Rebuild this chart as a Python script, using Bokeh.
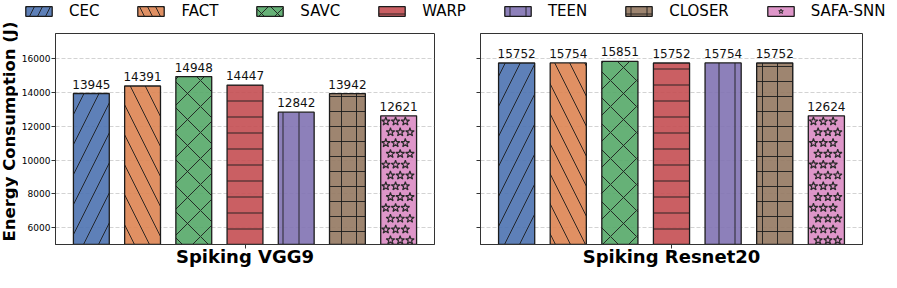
import numpy as np
from bokeh.plotting import figure
from bokeh.models import (Range1d, FixedTicker, Legend, LegendItem, ColumnDataSource, LabelSet)
from bokeh.layouts import column, row
from bokeh.embed import file_html
from bokeh.resources import INLINE
from bokeh.core.properties import value

# ---------------- data ----------------
methods = ["CEC", "FACT", "SAVC", "WARP", "TEEN", "CLOSER", "SAFA-SNN"]
vgg9 = [13945, 14391, 14948, 14447, 12842, 13942, 12621]
resnet20 = [15752, 15754, 15851, 15752, 15754, 15752, 12624]
panel_titles = ["Spiking VGG9", "Spiking Resnet20"]
y_ticks = [6000, 8000, 10000, 12000, 14000, 16000]
y_label = "Energy Consumption (J)"

# ---------------- styles ----------------
colors = ["#4C72B0", "#DD8452", "#55A868", "#C44E52", "#8172B3", "#937860", "#DA8BC3"]
hatches = ["right_diagonal_line", "left_diagonal_line", "diagonal_cross",
           "horizontal_line", "vertical_line", "cross", "blank"]
hatch_scales = [30, 30, 26, 16, 16, 15, 10]
star_bar = [False, False, False, False, False, False, True]
EDGE = "#1c1c1c"
FONT = "DejaVu Sans"
Y0, Y1 = 5000, 17500
BAR_W = 0.7


def make_panel(vals, title, first, width, bl, br):
    p = figure(width=width, height=260, x_range=Range1d(-0.7, len(methods) - 0.3),
               y_range=Range1d(Y0, Y1), output_backend="svg", toolbar_location=None,
               min_border_left=bl, min_border_right=br, min_border_top=5, min_border_bottom=44)
    p.background_fill_color = "white"
    p.border_fill_color = "white"
    p.outline_line_color = "#333333"
    p.outline_line_width = 1

    for i, (m, v) in enumerate(zip(methods, vals)):
        src = ColumnDataSource(dict(x=[i], top=[v]))
        p.vbar(x="x", top="top", bottom=0, width=BAR_W, source=src,
               fill_color=colors[i], fill_alpha=0.9, line_color=EDGE, line_width=1.3,
               hatch_pattern=hatches[i], hatch_color=EDGE, hatch_weight=1,
               hatch_scale=hatch_scales[i], hatch_alpha=0.9)
        if star_bar[i]:
            rows = np.arange(v - 330, Y0 - 400, -640)
            xs, ys = [], []
            for k, yy in enumerate(rows):
                offs = [-0.25, -0.06, 0.13] if k % 2 == 0 else [-0.16, 0.03, 0.22]
                for o in offs:
                    xs.append(i + o)
                    ys.append(yy)
            p.scatter(x=xs, y=ys, marker="star", size=9, fill_color=colors[i],
                      fill_alpha=0.0, line_color="#2a2a2a", line_width=1.2)

    lab_src = ColumnDataSource(dict(x=list(range(len(methods))), y=vals,
                                    t=[str(v) for v in vals]))
    p.add_layout(LabelSet(x="x", y="y", text="t", source=lab_src, y_offset=5,
                          text_align="center", text_baseline="alphabetic",
                          text_font_size="12px", text_font=value(FONT), text_color="#111111"))

    # x axis: single centered tick carrying the panel title
    mid = (len(methods) - 1) / 2
    p.xaxis.ticker = FixedTicker(ticks=[mid])
    p.xaxis.major_label_overrides = {mid: title}
    p.xaxis.major_label_text_font = FONT
    p.xaxis.major_label_text_font_style = "bold"
    p.xaxis.major_label_text_font_size = "18px"
    p.xaxis.major_label_text_color = "black"
    p.xaxis.major_label_standoff = -3
    p.xaxis.minor_tick_line_color = None
    p.xaxis.major_tick_out = 4
    p.xaxis.major_tick_in = 0
    p.xaxis.major_tick_line_color = "#333333"
    p.xaxis.axis_line_color = "#333333"

    p.yaxis.ticker = FixedTicker(ticks=y_ticks)
    p.yaxis.minor_tick_line_color = None
    p.yaxis.major_tick_out = 4
    p.yaxis.major_tick_in = 0
    p.yaxis.major_tick_line_color = "#333333"
    p.yaxis.axis_line_color = "#333333"
    p.yaxis.major_label_text_font = FONT
    p.yaxis.major_label_text_font_size = "9px"
    p.yaxis.major_label_text_color = "black"
    p.yaxis.major_label_standoff = 1
    if not first:
        p.yaxis.major_label_overrides = {t: "" for t in y_ticks}

    p.xgrid.visible = False
    p.ygrid.grid_line_color = "#b0b0b0"
    p.ygrid.grid_line_alpha = 0.7
    p.ygrid.grid_line_dash = "4 2"
    p.ygrid.grid_line_width = 0.8
    return p


left = make_panel(vgg9, panel_titles[0], True, 436, 35, 20)
right = make_panel(resnet20, panel_titles[1], False, 443, 26, 35)

# y-axis title strip (full height)
ylab = figure(width=18, height=288, x_range=Range1d(0, 18), y_range=Range1d(288, 0),
              x_axis_type=None, y_axis_type=None, toolbar_location=None,
              output_backend="svg", min_border=0)
ylab.outline_line_color = None
ylab.xgrid.visible = False
ylab.ygrid.visible = False
ylab.text(x=[8.5], y=[131], text=[y_label], angle=np.pi / 2, text_align="center",
          text_baseline="middle", text_font=value(FONT), text_font_style="bold",
          text_font_size="16.5px", text_color="black")

# legend strip
leg = figure(width=879, height=28, x_range=Range1d(0, 1), y_range=Range1d(0, 1),
             x_axis_type=None, y_axis_type=None, toolbar_location=None,
             output_backend="svg", min_border=0)
leg.outline_line_color = None
leg.xgrid.visible = False
leg.ygrid.visible = False
items = []
for i, m in enumerate(methods):
    r = leg.vbar(x=[i], top=[vgg9[i]], bottom=0, width=BAR_W,
                 fill_color=colors[i], fill_alpha=0.9, line_color=EDGE, line_width=1.3,
                 hatch_pattern=hatches[i], hatch_color=EDGE, hatch_weight=1,
                 hatch_scale=16, hatch_alpha=0.9)
    r.visible = False
    rs = [r]
    if star_bar[i]:
        s = leg.scatter(x=[i], y=[vgg9[i]], marker="star", size=6, fill_alpha=0,
                        line_color="#2a2a2a", line_width=1)
        s.visible = False
        rs.append(s)
    items.append(LegendItem(label=m, renderers=rs))

legend = Legend(items=items, location=(4, 8), orientation="horizontal",
                glyph_width=33, glyph_height=12, label_standoff=14, spacing=35,
                padding=0, margin=0, border_line_color=None, background_fill_alpha=0,
                label_text_font=FONT, label_text_font_size="15px", label_text_color="black",
                label_height=12)
leg.add_layout(legend)

layout = row(ylab, column(leg, row(left, right)))
open("out.html", "w").write(file_html(layout, INLINE))
